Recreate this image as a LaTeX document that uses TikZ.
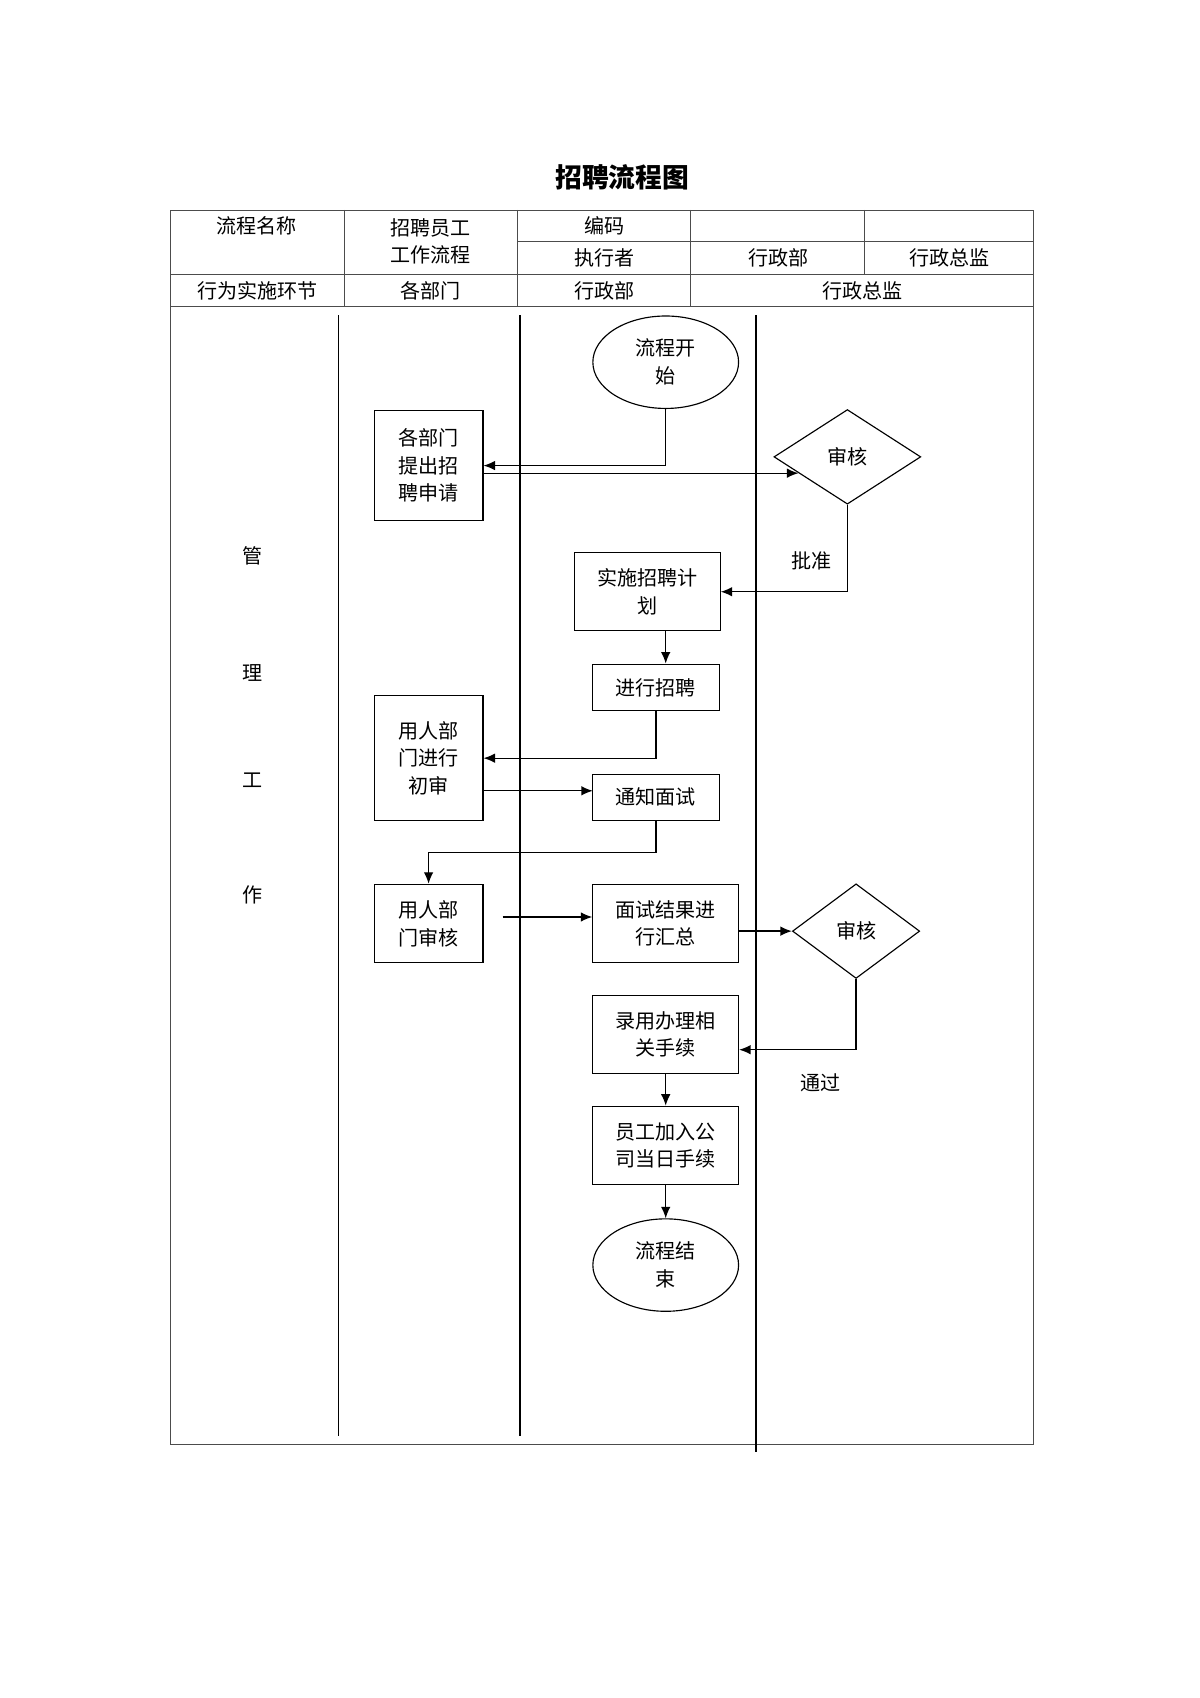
\documentclass[tikz,border=0pt]{standalone}
\usepackage{fontspec}
\setmainfont{Noto Sans CJK SC}
\usetikzlibrary{arrows.meta, calc, shapes.geometric}
\tikzset{%
    box/.style={rectangle, draw, line width=0.6pt, align=center, inner sep=1pt, font=\fontsize{10.5}{14.5}\selectfont},
    term/.style={ellipse, draw, line width=0.6pt, align=center, inner sep=0pt, minimum width=2.68cm, minimum height=1.7cm, font=\fontsize{10.5}{14.5}\selectfont},
    chk/.style={diamond, draw, line width=0.6pt, aspect=1.55, inner sep=0pt, font=\fontsize{10.5}{14.5}\selectfont},
    txt/.style={inner sep=0pt, font=\fontsize{10.5}{14.5}\selectfont},
    grid/.style={line width=0.4pt, draw=black!70},
    lane/.style={line width=0.8pt},
    fl/.style={line width=0.7pt, -{Latex[length=6pt,width=5pt]}},
}
\begin{document}
\begin{tikzpicture}[x=0.02cm, y=-0.02cm]
    \useasboundingbox (0,0) rectangle (1103,1561);
    \node[txt, font=\fontsize{14}{16}\selectfont\bfseries] (title) at (572,163) {招聘流程图};
    % table
    \draw [grid] (157,193) rectangle (950,1328);
    \draw [grid] (476,222)--(950,222);
    \draw [grid] (157,252)--(950,252);
    \draw [grid] (157,282)--(950,282);
    \draw [grid] (317,193)--(317,282);
    \draw [grid] (476,193)--(476,282);
    \draw [grid] (635,193)--(635,282);
    \draw [grid] (795,193)--(795,252);
    \node[txt] (h1) at (236,208) {流程名称};
    \node[txt, align=center] (h2) at (396,222) {招聘员工\\工作流程};
    \node[txt] (h3) at (556,208) {编码};
    \node[txt] (h4) at (556,237) {执行者};
    \node[txt] (h5) at (716,237) {行政部};
    \node[txt] (h6) at (873,237) {行政总监};
    \node[txt] (r1) at (237,267) {行为实施环节};
    \node[txt] (r2) at (396,267) {各部门};
    \node[txt] (r3) at (556,267) {行政部};
    \node[txt] (r4) at (793,267) {行政总监};
    % lanes
    \draw [lane] (311,290)--(311,1320);
    \draw [lane] (478,290)--(478,1320);
    \draw [lane] (695,290)--(695,1335);
    \foreach \ch/\y in {管/511, 理/619, 工/717, 作/823}
        \node[txt] at (232,\y) {\ch};
    % nodes
    \node[term] (start) at (612,333) {流程开\\始};
    \node[box, minimum width=2cm, minimum height=2.02cm] (apply) at (394,428) {各部门\\提出招\\聘申请};
    \node[chk, minimum width=2.7cm, minimum height=1.74cm] (chk1) at (779,420) {审核};
    \node[box, minimum width=2.68cm, minimum height=1.44cm] (plan) at (595,544) {实施招聘计\\划};
    \node[box, minimum width=2.34cm, minimum height=0.86cm] (recruit) at (603,632) {进行招聘};
    \node[box, minimum width=2cm, minimum height=2.3cm] (prescreen) at (394,697) {用人部\\门进行\\初审};
    \node[box, minimum width=2.34cm, minimum height=0.84cm] (notify) at (603,733) {通知面试};
    \node[box, minimum width=2cm, minimum height=1.44cm] (review) at (394,849) {用人部\\门审核};
    \node[box, minimum width=2.68cm, minimum height=1.44cm] (summary) at (612,849) {面试结果进\\行汇总};
    \node[chk, minimum width=2.34cm, minimum height=1.74cm] (chk2) at (787,856) {审核};
    \node[box, minimum width=2.68cm, minimum height=1.44cm] (hire) at (612,951) {录用办理相\\关手续};
    \node[box, minimum width=2.68cm, minimum height=1.44cm] (join) at (612,1053) {员工加入公\\司当日手续};
    \node[term] (stop) at (612,1163) {流程结\\束};
    \node[txt] (ok1) at (746,516) {批准};
    \node[txt] (ok2) at (754,995) {通过};
    % connectors
    \draw [fl] (start.south) |- (apply.east);
    \coordinate (a1) at ($(apply.east)+(0,7)$);
    \coordinate (a2) at (734,435);
    \draw [fl] (a1) -- (a2);
    \draw [fl] (chk1.south) |- (plan.east);
    \draw [fl] (612,580) -- (612,610);
    \draw [fl] (recruit.south) |- (prescreen.east);
    \draw [fl] (444,727) -- (545,727);
    \draw [fl] (notify.south) -- (603,784) -| (review.north);
    \coordinate (s1) at (462,843);
    \draw [fl] (s1) -- (summary.west |- s1);
    \draw [fl] (summary.east |- chk2.west) -- (chk2.west);
    \draw [fl] (chk2.south) |- ($(hire.east)+(0,14)$);
    \draw [fl] (hire.south) -- (join.north);
    \draw [fl] (join.south) -- (stop.north);
\end{tikzpicture}
\end{document}
